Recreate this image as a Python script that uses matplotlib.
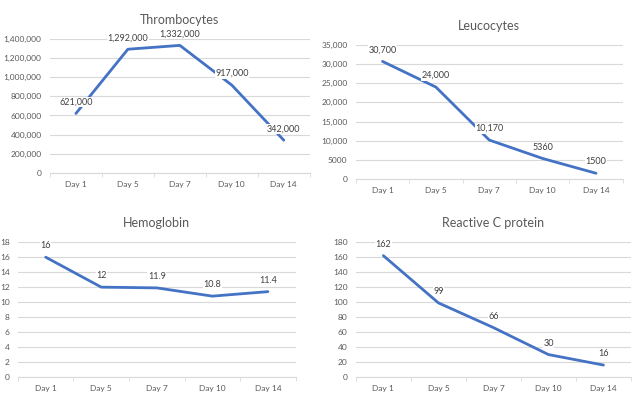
import matplotlib.pyplot as plt

plt.rcParams['font.family'] = ['Lato', 'DejaVu Sans']

days = ["Day 1", "Day 5", "Day 7", "Day 10", "Day 14"]

thrombocytes = [621000, 1292000, 1332000, 917000, 342000]
thrombo_labels = ["621,000", "1,292,000", "1,332,000", "917,000", "342,000"]
thrombo_ticks = [0, 200000, 400000, 600000, 800000, 1000000, 1200000, 1400000]
thrombo_ticklabels = ["0", "200,000", "400,000", "600,000", "800,000",
                      "1,000,000", "1,200,000", "1,400,000"]

leucocytes = [30700, 24000, 10170, 5360, 1500]
leuco_labels = ["30,700", "24,000", "10,170", "5360", "1500"]
leuco_ticks = [0, 5000, 10000, 15000, 20000, 25000, 30000, 35000]
leuco_ticklabels = ["0", "5000", "10,000", "15,000", "20,000", "25,000",
                    "30,000", "35,000"]

hemoglobin = [16, 12, 11.9, 10.8, 11.4]
hemo_labels = ["16", "12", "11.9", "10.8", "11.4"]
hemo_ticks = [0, 2, 4, 6, 8, 10, 12, 14, 16, 18]

crp = [162, 99, 66, 30, 16]
crp_labels = ["162", "99", "66", "30", "16"]
crp_ticks = [0, 20, 40, 60, 80, 100, 120, 140, 160, 180]

LINE = "#4472C4"
TXT = "#595959"
GRID = "#D9D9D9"

fig = plt.figure(figsize=(6.4, 4.05), dpi=100)


def panel(rect, title, values, labels, ticks, ticklabels):
    ax = fig.add_axes(rect)
    x = list(range(len(days)))
    ax.plot(x, values, color=LINE, lw=2.0, solid_capstyle='round', zorder=3)
    for xi, v, lab in zip(x, values, labels):
        ax.annotate(lab, (xi, v), xytext=(0, 5), textcoords='offset points',
                    ha='center', va='bottom', fontsize=6.5, color='#404040',
                    zorder=4, annotation_clip=False,
                    bbox=dict(boxstyle='square,pad=0.05', fc='white',
                              ec='none'))
    ax.set_xlim(-0.5, len(days) - 0.5)
    ax.set_ylim(ticks[0], ticks[-1])
    ax.set_yticks(ticks)
    ax.set_yticklabels(ticklabels)
    ax.set_xticks(x)
    ax.set_xticklabels(days)
    ax.set_xticks([i - 0.5 for i in range(len(days) + 1)], minor=True)
    ax.tick_params(axis='x', which='major', length=0, pad=6,
                   labelsize=6, labelcolor=TXT)
    ax.tick_params(axis='x', which='minor', length=3, color=GRID)
    ax.tick_params(axis='y', length=0, pad=6, labelsize=6, labelcolor=TXT)
    ax.grid(axis='y', color=GRID, lw=0.8)
    ax.set_axisbelow(True)
    for s in ['top', 'right', 'left']:
        ax.spines[s].set_visible(False)
    ax.spines['bottom'].set_color(GRID)
    ax.spines['bottom'].set_linewidth(0.8)
    ax.set_title(title, fontsize=9, color=TXT, pad=11)
    return ax


panel([0.078, 0.573, 0.406, 0.331], "Thrombocytes", thrombocytes,
      thrombo_labels, thrombo_ticks, thrombo_ticklabels)
panel([0.556, 0.558, 0.417, 0.331], "Leucocytes", leucocytes,
      leuco_labels, leuco_ticks, leuco_ticklabels)
panel([0.028, 0.069, 0.434, 0.333], "Hemoglobin", hemoglobin,
      hemo_labels, hemo_ticks, [str(t) for t in hemo_ticks])
panel([0.556, 0.069, 0.430, 0.333], "Reactive C protein", crp,
      crp_labels, crp_ticks, [str(t) for t in crp_ticks])

fig.savefig("out.png", dpi=100, facecolor='white')
